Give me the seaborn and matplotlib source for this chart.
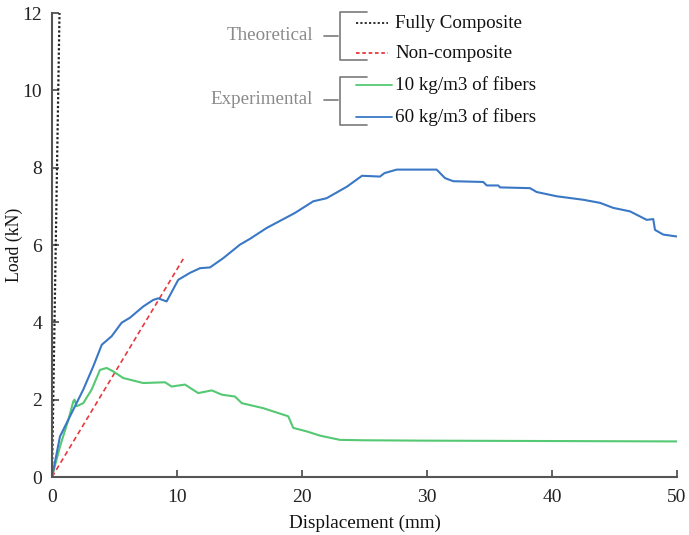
import matplotlib
matplotlib.use("Agg")
import matplotlib.pyplot as plt
from matplotlib.lines import Line2D
import seaborn as sns

# ---- data ----
full_x = [0.0, 0.6]
full_y = [0.0, 12.0]
non_x = [0.0, 10.5]
non_y = [0.0, 5.64]

fib10_x = [0, 0.64, 1.31, 1.71, 1.8, 1.97, 2.5, 3.17, 3.84, 4.37, 4.9, 5.7, 7.3, 9.04, 9.57,
           10.64, 11.7, 12.78, 13.58, 14.64, 15.18, 16.9, 18.9, 19.3, 20.37, 21.44, 23.04,
           24.9, 30, 40, 50]
fib10_y = [0, 0.79, 1.48, 1.96, 2.0, 1.83, 1.91, 2.26, 2.77, 2.82, 2.73, 2.56, 2.43, 2.45, 2.34,
           2.39, 2.17, 2.24, 2.13, 2.08, 1.91, 1.78, 1.57, 1.27, 1.18, 1.07, 0.96,
           0.95, 0.94, 0.93, 0.92]

fib60_x = [0, 0.64, 1.44, 2.5, 3.3, 3.98, 4.77, 5.57, 6.24, 7.3, 8.1, 8.5, 9.17, 10.1, 11.04,
           11.84, 12.64, 13.7, 15.04, 15.84, 17.17, 19.44, 20.9, 21.97, 23.6, 24.8, 26.24,
           26.6, 27.58, 30.77, 31.44, 32.1, 34.5, 34.78, 35.7, 35.84, 38.24, 38.78, 40.38,
           42.5, 43.84, 44.9, 46.24, 47.58, 48.1, 48.24, 48.9, 49.98]
fib60_y = [0, 1.05, 1.57, 2.26, 2.86, 3.42, 3.64, 3.99, 4.12, 4.41, 4.58, 4.62, 4.54, 5.10, 5.28,
           5.40, 5.42, 5.66, 6.01, 6.16, 6.44, 6.83, 7.13, 7.21, 7.51, 7.79, 7.77,
           7.86, 7.95, 7.95, 7.73, 7.65, 7.63, 7.54, 7.54, 7.49, 7.47, 7.37, 7.26,
           7.17, 7.09, 6.96, 6.87, 6.65, 6.67, 6.39, 6.27, 6.22]

x_ticks = [0, 10, 20, 30, 40, 50]
y_ticks = [0, 2, 4, 6, 8, 10, 12]

C_FULL = "#222222"
C_NON = "#e8383d"
C_10 = "#55c873"
C_60 = "#3a78c6"

sns.set_style("ticks")
plt.rcParams["font.family"] = ["Liberation Serif", "DejaVu Serif"]

W, H = 689, 535
fig = plt.figure(figsize=(W / 100, H / 100), dpi=100)
ax = fig.add_axes([52 / W, 1 - 477 / H, (677 - 52) / W, (477 - 13) / H])

sns.lineplot(x=full_x, y=full_y, ax=ax, color=C_FULL, lw=1.6, linestyle=(0, (1.0, 1.0)),
             sort=False, estimator=None)
sns.lineplot(x=non_x, y=non_y, ax=ax, color=C_NON, lw=1.2, linestyle=(0, (3, 2)),
             sort=False, estimator=None)
sns.lineplot(x=fib10_x, y=fib10_y, ax=ax, color=C_10, lw=1.5, sort=False, estimator=None)
sns.lineplot(x=fib60_x, y=fib60_y, ax=ax, color=C_60, lw=1.5, sort=False, estimator=None)

ax.set_xlim(0, 50)
ax.set_ylim(0, 12)
ax.set_xticks(x_ticks)
ax.set_yticks(y_ticks)
for s in ["top", "right"]:
    ax.spines[s].set_visible(False)
for s in ["left", "bottom"]:
    ax.spines[s].set_color("#555555")
    ax.spines[s].set_linewidth(1.5)
ax.tick_params(direction="in", length=5, width=1.3, color="#555555", labelsize=14,
               labelcolor="#222222")
ax.tick_params(axis="x", pad=9)
ax.tick_params(axis="y", pad=7)
ax.set_xlabel("Displacement (mm)", fontsize=13.8, color="#111111", labelpad=6)
ax.set_ylabel("Load (kN)", fontsize=12.8, color="#111111")
ax.yaxis.set_label_coords(-(52 - 23) / 625, 0.5)

# ---- custom bracketed legend (pixel coords -> figure fraction) ----
def fx(px):
    return px / W

def fy(py):
    return 1 - py / H

BR = "#7a7a7a"
GREY_TXT = "#8a8a8a"
LFS = 13.7

def group(title, top, mid, bot, entries):
    fig.text(fx(313), fy(mid), title, ha="right", va="center", fontsize=LFS, color=GREY_TXT)
    fig.add_artist(Line2D([fx(324), fx(338)], [fy(mid), fy(mid)], color=BR, lw=1.2))
    fig.add_artist(Line2D([fx(367), fx(340), fx(340), fx(367)],
                          [fy(top), fy(top), fy(bot), fy(bot)], color=BR, lw=1.2))
    for (py, lab, col, ls, x2) in entries:
        fig.add_artist(Line2D([fx(356), fx(x2)], [fy(py), fy(py)], color=col, lw=1.3, linestyle=ls))
        fig.text(fx(395), fy(py), lab, ha="left", va="center", fontsize=LFS, color="#111111")

group("Theoretical", 12, 36, 60, [
    (23, "Fully Composite", C_FULL, (0, (1.2, 1.2)), 388),
    (53, "Non-composite", C_NON, (0, (2, 1.5)), 388),
])
group("Experimental", 77, 100, 125, [
    (85, "10 kg/m3 of fibers", C_10, "-", 392),
    (117, "60 kg/m3 of fibers", C_60, "-", 392),
])

fig.savefig("out.png", dpi=100)
